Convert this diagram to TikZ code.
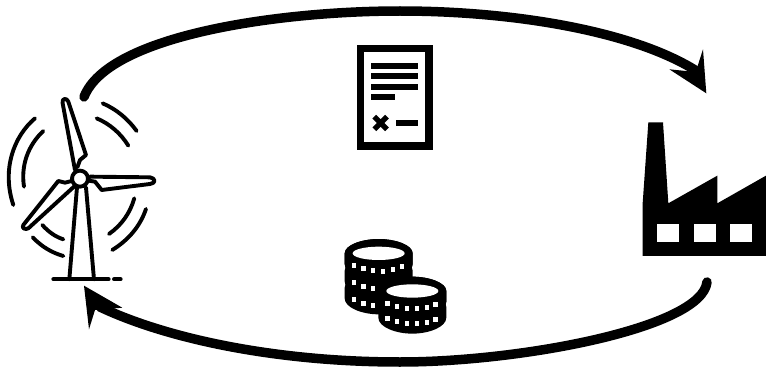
\documentclass[tikz,border=0pt]{standalone}
\tikzset{
  ink/.style={draw=black,line cap=round,line join=round,line width=3.9pt},
  flow/.style={draw=black,line width=9.5pt,line cap=round},
  head/.style={fill=black,draw=none},
  hole/.style={fill=white,draw=none},
  solid ink/.style={fill=black,draw=none},
}
\newcommand{\coinat}[2]{%
  \fill[black] (#1-102,#2) .. controls (#1-102,#2-25) and (#1-50,#2-43) .. (#1,#2-43)
     .. controls (#1+50,#2-43) and (#1+102,#2-25) .. (#1+102,#2)
     -- (#1+102,#2+32) .. controls (#1+102,#2+60) and (#1+50,#2+80) .. (#1,#2+80)
     .. controls (#1-50,#2+80) and (#1-102,#2+60) .. (#1-102,#2+32) -- cycle;
}
\newcommand{\coinrow}[2]{%
  \foreach \dx/\dy in {-74/37,-46/47,-16/53,14/54,44/50,70/40}{
    \fill[white] (#1+\dx-6.5,#2+\dy-7.5) rectangle (#1+\dx+6.5,#2+\dy+7.5);
  }
}
\begin{document}
\begin{tikzpicture}[x=1pt,y=-1pt]
\useasboundingbox (0,0) rectangle (766,369);
% anchors of the two flows
\coordinate (turbineTop) at (84,97);
\coordinate (topMid) at (400,11);
\coordinate (factoryTop) at (695,70);
\coordinate (factoryBottom) at (707,282);
\coordinate (botMid) at (400,362);
\coordinate (turbineBottom) at (100,307);
\draw[flow] (turbineTop) .. controls (108,35) and (280,11) .. (topMid)
   .. controls (510,11) and (630,30) .. (factoryTop);
\fill[head] (706.3,93.3) -- (703,49.3) -- (695.7,72) -- (669.3,69.3) -- cycle;
\draw[flow] (factoryBottom) .. controls (702,328) and (520,362) .. (botMid)
   .. controls (280,362) and (170,340) .. (turbineBottom);
\fill[head] (84,285.7) -- (122.3,307.7) -- (95,310) -- (89,329.3) -- cycle;
% wind turbine
\begin{scope}[shift={(0,80)},x=0.3333pt,y=-0.3333pt]
  \draw[ink] (232,262) -- (240,240) -- (258,225) -- (205,65) .. controls (200,52) and (184,55) .. (188,70) -- (225,270);
  \draw[ink] (270,290) -- (450,292) .. controls (468,295) and (468,310) .. (450,312) -- (305,330) -- (285,305) -- (266,302);
  \draw[ink] (215,303) -- (195,308) -- (175,303) -- (70,435) .. controls (64,445) and (76,450) .. (85,445) -- (222,320);
  \draw[ink] (231,322) -- (208,598);
  \draw[ink] (258,322) -- (282,598);
  \draw[ink] (160,598) -- (326,598);
  \draw[ink] (342,598) -- (362,598);
  \draw[ink] (240,296) circle[radius=24];
  \draw[ink] (105,115) .. controls (40,170) and (5,270) .. (40,375);
  \draw[ink] (130,153) .. controls (85,195) and (62,255) .. (72,320);
  \draw[ink] (308,70) .. controls (350,88) and (385,118) .. (410,153);
  \draw[ink] (290,115) .. controls (330,132) and (362,160) .. (385,197);
  \draw[ink] (403,355) .. controls (390,400) and (365,435) .. (327,462);
  \draw[ink] (438,387) .. controls (420,440) and (385,480) .. (337,510);
  \draw[ink] (127,435) .. controls (145,455) and (165,470) .. (190,478);
  \draw[ink] (98,472) .. controls (125,500) and (155,518) .. (190,528);
\end{scope}
% document
\begin{scope}[shift={(340,35)},x=0.3333pt,y=-0.3333pt]
  \fill[black] (52,30) rectangle (278,344);
  \fill[white] (73,52) rectangle (256,320);
  \fill[black] (93,84) rectangle (234,102);
  \fill[black] (93,114) rectangle (234,132);
  \fill[black] (93,147) rectangle (234,165);
  \fill[black] (93,177) rectangle (165,195);
  \fill[black] (168,255) rectangle (234,273);
  \draw[black,line width=5.2pt] (103,245) -- (141,283) (141,245) -- (103,283);
\end{scope}
% factory
\begin{scope}[shift={(630,40)},x=0.3333pt,y=-0.3333pt]
  \fill[solid ink] (38,648) -- (38,490) -- (55,247) -- (99,247) -- (115,490) -- (262,407) -- (262,490) -- (408,407) -- (408,648) -- cycle;
  \fill[hole] (82,553) rectangle (148,607);
  \fill[hole] (191,553) rectangle (257,607);
  \fill[hole] (301,553) rectangle (367,607);
\end{scope}
% coins
\begin{scope}[shift={(330,225)},x=0.3333pt,y=-0.3333pt]
  \coinat{146}{188}
  \coinat{146}{137}
  \coinat{146}{85}
  \coinrow{146}{188}
  \coinrow{146}{137}
  \coinat{146}{85}
  \coinrow{146}{85}
  \fill[white] (146,85) ellipse[x radius=78,y radius=20];
  \coinat{247}{246}
  \coinat{247}{198}
  \coinrow{247}{243}
  \coinat{247}{198}
  \coinrow{247}{198}
  \fill[white] (247,198) ellipse[x radius=78,y radius=20];
\end{scope}
\end{tikzpicture}
\end{document}
